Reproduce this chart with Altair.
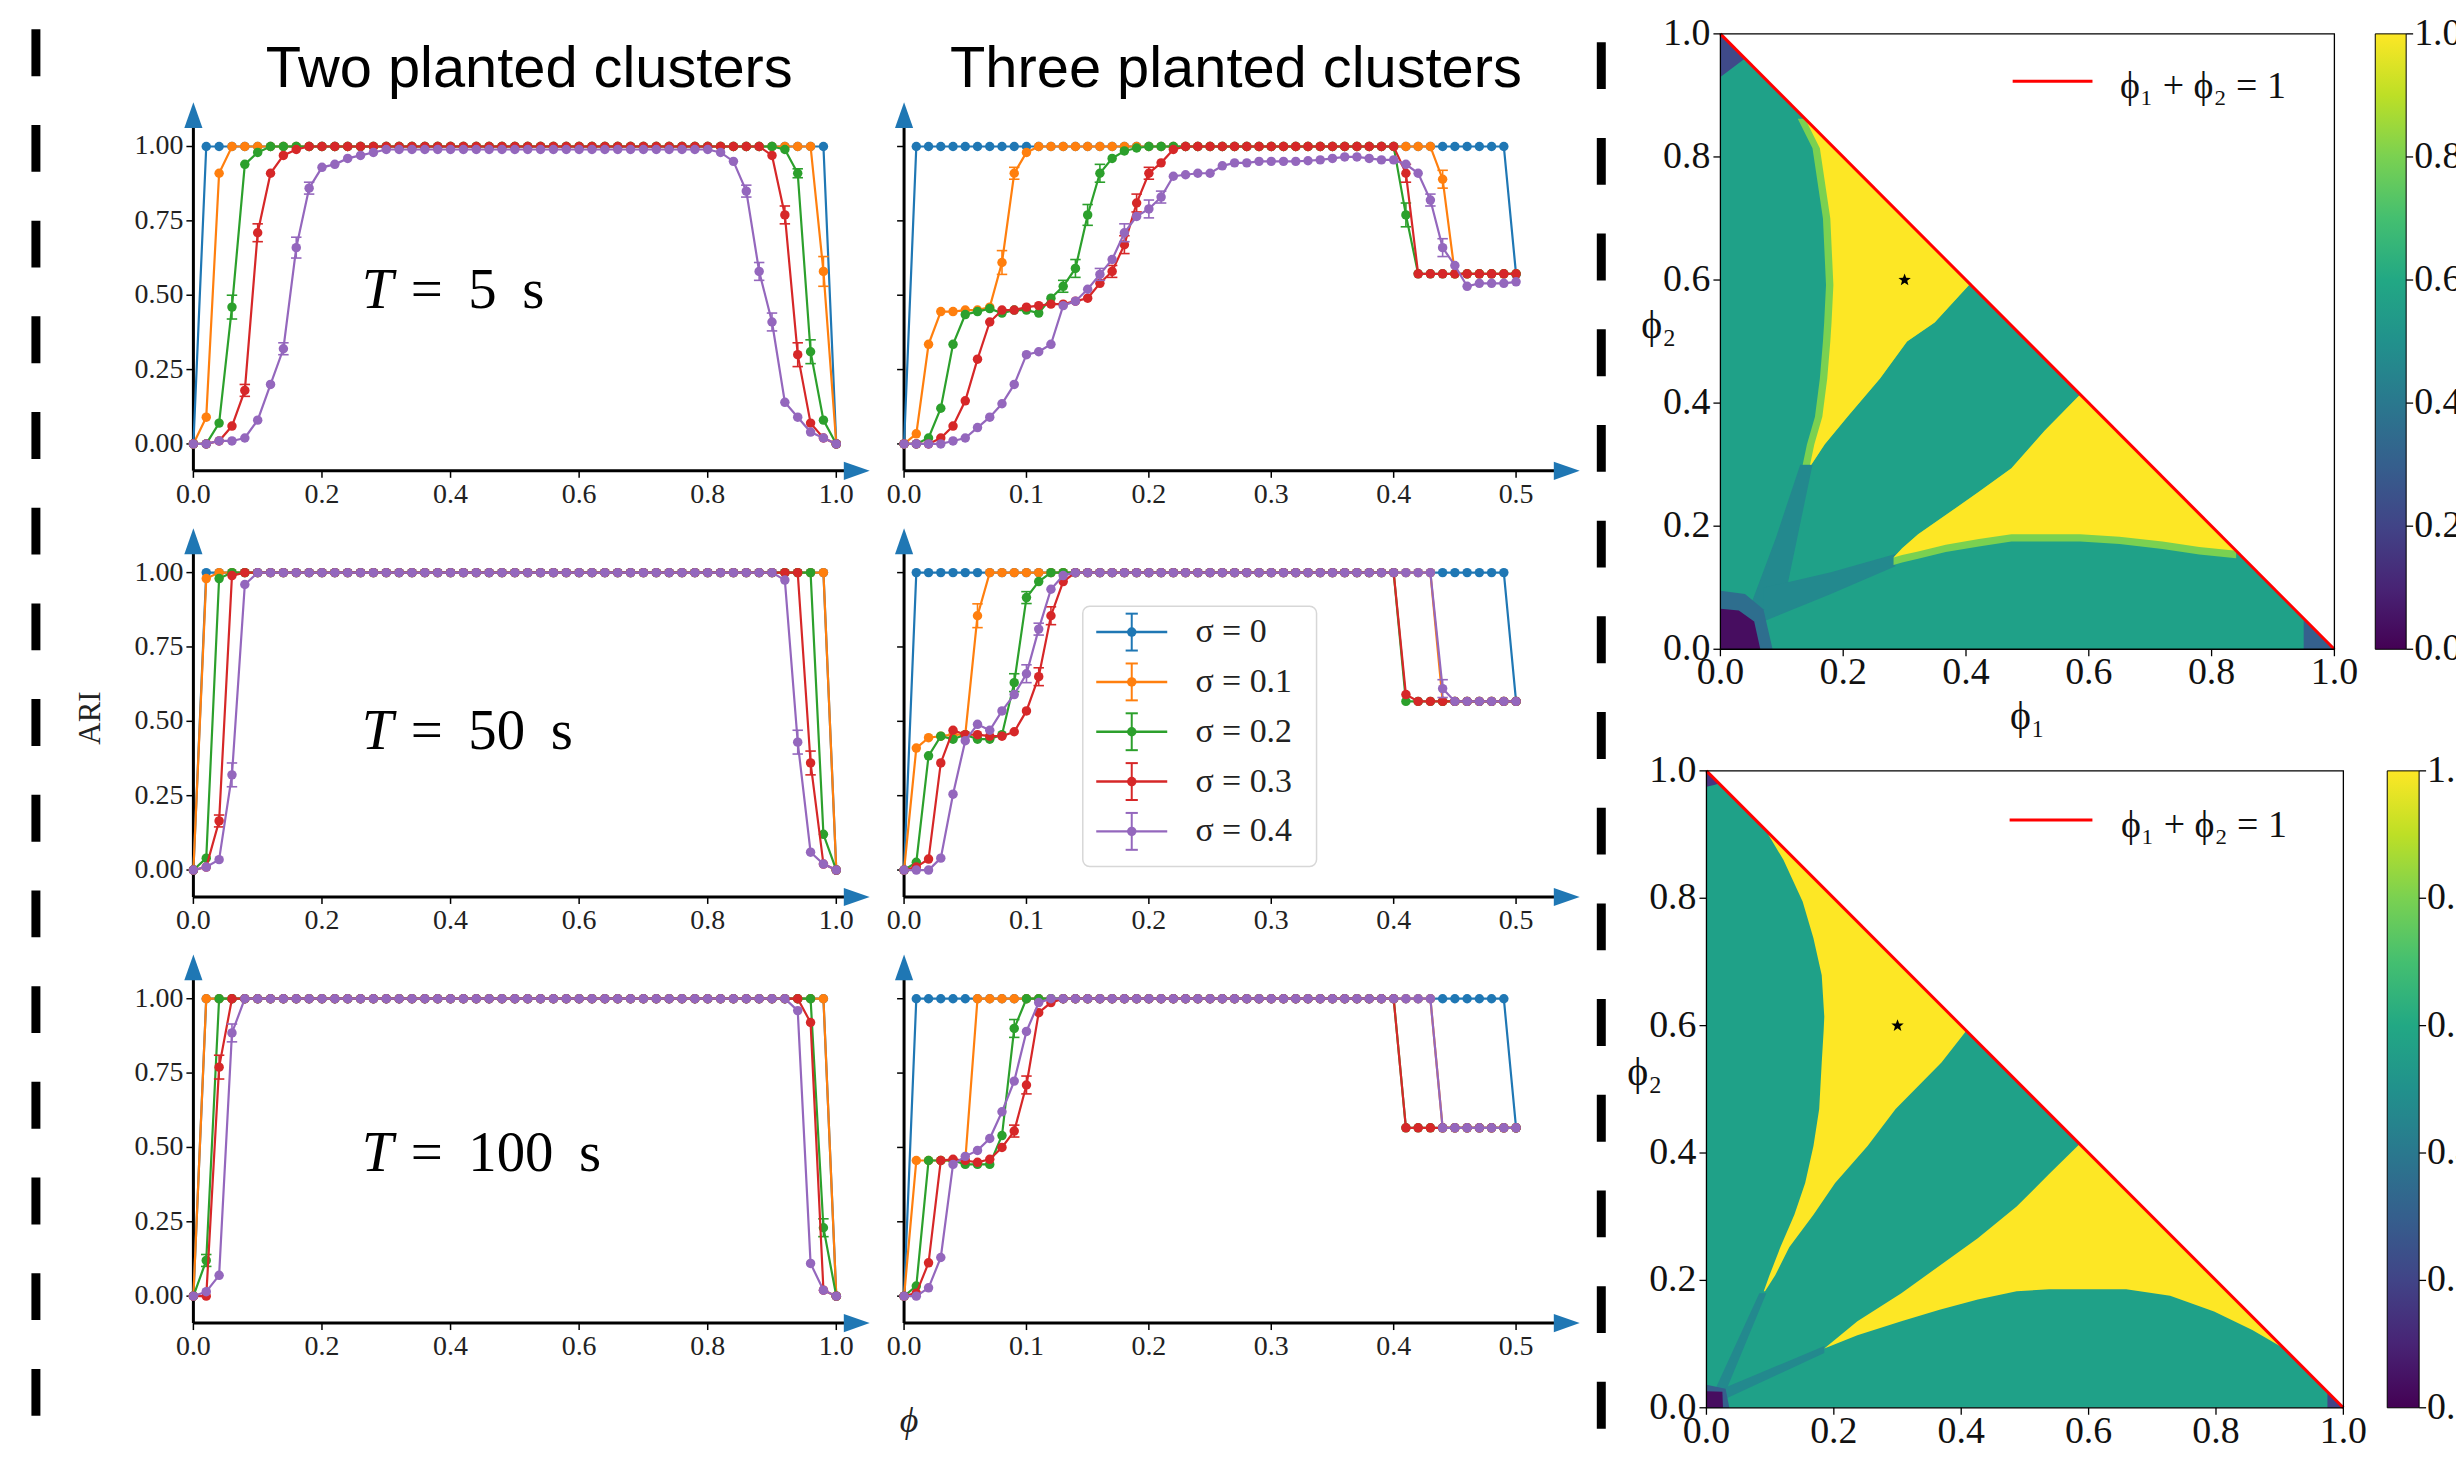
import math
import altair as alt
import pandas as pd

# ------------------------------------------------------------------ data
PHI_TWO = [round(0.02 * i, 2) for i in range(51)]
PHI_THREE = [round(0.01 * i, 2) for i in range(51)]
SIGMAS = ["σ = 0", "σ = 0.1", "σ = 0.2", "σ = 0.3", "σ = 0.4"]
SERIES_COLORS = ["#1f77b4", "#ff7f0e", "#2ca02c", "#d62728", "#9467bd"]
TITLES = ["Two planted clusters", "Three planted clusters"]
T_VALUES = ["5", "50", "100"]

# Two planted clusters
TWO_T5 = [
    [0.0] + [1.0] * 49 + [0.0],
    [0.0, 0.09, 0.91] + [1.0] * 46 + [0.58, 0.0],
    [0.0, 0.0, 0.07, 0.46, 0.94, 0.98] + [1.0] * 40 + [0.99, 0.91, 0.31, 0.08, 0.0],
    [0.0, 0.0, 0.01, 0.06, 0.18, 0.71, 0.91, 0.97, 0.99] + [1.0] * 36 + [0.97, 0.77, 0.30, 0.07, 0.02, 0.0],
    [0.0, 0.0, 0.01, 0.01, 0.02, 0.08, 0.20, 0.32, 0.66, 0.86, 0.93, 0.94, 0.96, 0.97, 0.98] + [0.99] * 26
    + [0.98, 0.95, 0.85, 0.58, 0.41, 0.14, 0.09, 0.04, 0.02, 0.0],
]
TWO_T50 = [
    [0.0] + [1.0] * 49 + [0.0],
    [0.0, 0.98] + [1.0] * 48 + [0.0],
    [0.0, 0.04, 0.98] + [1.0] * 46 + [0.12, 0.0],
    [0.0, 0.01, 0.165, 0.99] + [1.0] * 44 + [0.36, 0.02, 0.0],
    [0.0, 0.01, 0.035, 0.32, 0.96] + [1.0] * 41 + [0.975, 0.43, 0.06, 0.02, 0.0],
]
TWO_T100 = [
    [0.0] + [1.0] * 49 + [0.0],
    [0.0] + [1.0] * 49 + [0.0],
    [0.0, 0.12] + [1.0] * 47 + [0.23, 0.0],
    [0.0, 0.0, 0.77] + [1.0] * 45 + [0.92, 0.02, 0.0],
    [0.0, 0.015, 0.07, 0.885] + [1.0] * 43 + [0.96, 0.11, 0.02, 0.0],
]
# Three planted clusters
THREE_T5 = [
    [0.0] + [1.0] * 49 + [0.57],
    [0.0, 0.034, 0.335, 0.445, 0.445, 0.45, 0.45, 0.46, 0.61, 0.91, 0.98] + [1.0] * 33 + [0.89] + [0.572] * 6,
    [0.0, 0.0, 0.02, 0.12, 0.335, 0.435, 0.445, 0.455, 0.44, 0.45, 0.45, 0.44, 0.49, 0.53, 0.59, 0.77, 0.91,
     0.96, 0.985, 0.995] + [1.0] * 21 + [0.77] + [0.572] * 9,
    [0.0, 0.0, 0.0, 0.02, 0.06, 0.145, 0.285, 0.41, 0.45, 0.45, 0.46, 0.465, 0.47, 0.47, 0.48, 0.49, 0.54, 0.58,
     0.67, 0.81, 0.91, 0.945, 0.99] + [1.0] * 18 + [0.91] + [0.572] * 9,
    [0.0, 0.0, 0.0, 0.0, 0.01, 0.02, 0.055, 0.09, 0.135, 0.2, 0.3, 0.31, 0.335, 0.465, 0.48, 0.52, 0.57, 0.62,
     0.71, 0.765, 0.79, 0.83, 0.9, 0.905, 0.91, 0.91, 0.935, 0.945, 0.945, 0.95,
     0.95, 0.95, 0.95, 0.952, 0.955, 0.96, 0.965, 0.965, 0.96, 0.955, 0.955, 0.94, 0.91, 0.82, 0.66, 0.60,
     0.53, 0.54, 0.54, 0.54, 0.545],
]
THREE_T50 = [
    [0.0] + [1.0] * 49 + [0.567],
    [0.0, 0.41, 0.445, 0.45, 0.455, 0.455, 0.855] + [1.0] * 37 + [0.567] * 7,
    [0.0, 0.026, 0.384, 0.45, 0.44, 0.455, 0.44, 0.44, 0.455, 0.63, 0.916, 0.97] + [1.0] * 29 + [0.567] * 10,
    [0.0, 0.01, 0.037, 0.36, 0.47, 0.455, 0.455, 0.45, 0.45, 0.465, 0.535, 0.65, 0.855, 0.97] + [1.0] * 27
    + [0.59] + [0.567] * 9,
    [0.0, 0.0, 0.0, 0.04, 0.255, 0.435, 0.49, 0.47, 0.535, 0.59, 0.66, 0.81, 0.944, 0.99] + [1.0] * 30
    + [0.61] + [0.567] * 6,
]
THREE_T100 = [
    [0.0] + [1.0] * 49 + [0.566],
    [0.0, 0.456, 0.456, 0.456, 0.456, 0.456] + [1.0] * 38 + [0.566] * 7,
    [0.0, 0.034, 0.456, 0.456, 0.456, 0.443, 0.443, 0.443, 0.54, 0.90] + [1.0] * 31 + [0.566] * 10,
    [0.0, 0.01, 0.112, 0.456, 0.46, 0.456, 0.45, 0.46, 0.50, 0.555, 0.71, 0.953, 0.987] + [1.0] * 28 + [0.566] * 10,
    [0.0, 0.0, 0.028, 0.13, 0.443, 0.47, 0.49, 0.53, 0.62, 0.723, 0.89, 0.987] + [1.0] * 32 + [0.566] * 7,
]
PANELS = {(0, 0): TWO_T5, (1, 0): TWO_T50, (2, 0): TWO_T100,
          (0, 1): THREE_T5, (1, 1): THREE_T50, (2, 1): THREE_T100}

# visible error bars: (row, col, series) -> {phi: half-width}
ERRORS = {
    (0, 0, 1): {0.98: 0.05},
    (0, 0, 2): {0.06: 0.04, 0.94: 0.015, 0.96: 0.04},
    (0, 0, 3): {0.08: 0.02, 0.10: 0.03, 0.92: 0.03, 0.94: 0.04},
    (0, 0, 4): {0.14: 0.02, 0.16: 0.035, 0.18: 0.02, 0.86: 0.02, 0.88: 0.03, 0.90: 0.03},
    (0, 1, 1): {0.08: 0.04, 0.09: 0.02, 0.44: 0.03},
    (0, 1, 2): {0.13: 0.02, 0.14: 0.03, 0.15: 0.035, 0.16: 0.03, 0.41: 0.04},
    (0, 1, 3): {0.17: 0.02, 0.18: 0.03, 0.19: 0.03, 0.20: 0.02, 0.41: 0.03},
    (0, 1, 4): {0.16: 0.02, 0.18: 0.03, 0.20: 0.03, 0.21: 0.02, 0.43: 0.02, 0.44: 0.03},
    (1, 0, 3): {0.04: 0.02, 0.96: 0.04},
    (1, 0, 4): {0.06: 0.04, 0.94: 0.04},
    (1, 1, 1): {0.06: 0.04},
    (1, 1, 2): {0.09: 0.03, 0.10: 0.02},
    (1, 1, 3): {0.11: 0.03, 0.12: 0.03},
    (1, 1, 4): {0.10: 0.03, 0.11: 0.02, 0.44: 0.03},
    (2, 0, 2): {0.02: 0.02, 0.98: 0.03},
    (2, 0, 3): {0.04: 0.04},
    (2, 0, 4): {0.06: 0.03},
    (2, 1, 2): {0.09: 0.03},
    (2, 1, 3): {0.09: 0.02, 0.10: 0.03},
}

Y_TICKS = [0.0, 0.25, 0.5, 0.75, 1.0]
Y_TICK_LABELS = ["0.00", "0.25", "0.50", "0.75", "1.00"]
X_TICKS = [[0.0, 0.2, 0.4, 0.6, 0.8, 1.0], [0.0, 0.1, 0.2, 0.3, 0.4, 0.5]]
X_TICK_LABELS = [["0.0", "0.2", "0.4", "0.6", "0.8", "1.0"], ["0.0", "0.1", "0.2", "0.3", "0.4", "0.5"]]
HEAT_TICKS = [0.0, 0.2, 0.4, 0.6, 0.8, 1.0]
HEAT_TICK_LABELS = ["0.0", "0.2", "0.4", "0.6", "0.8", "1.0"]

# ARI maps over (phi1, phi2): region values and boundaries
V_TEAL, V_YELLOW, V_RIM, V_STREAK = 0.57, 1.0, 0.8, 0.47
TOP_A_Y = [0.30, 0.333, 0.378, 0.44, 0.50, 0.531, 0.592, 0.70, 0.814, 0.862]
TOP_A_LEFT = [0.146, 0.153, 0.166, 0.174, 0.179, 0.181, 0.184, 0.179, 0.162, 0.138]
TOP_A_RIGHT = [0.148, 0.170, 0.207, 0.260, 0.304, 0.349, 0.405, 0.300, 0.186, 0.138]
TOP_B_X = [0.282, 0.296, 0.322, 0.367, 0.421, 0.474, 0.528, 0.586, 0.65, 0.72, 0.78, 0.84]
TOP_B_LOW = [0.149, 0.153, 0.159, 0.170, 0.179, 0.187, 0.187, 0.187, 0.183, 0.175, 0.166, 0.160]
TOP_B_HIGH = [0.149, 0.164, 0.187, 0.218, 0.256, 0.294, 0.355, 0.414, 0.350, 0.280, 0.220, 0.160]
TOP_S1 = dict(y=[0.06, 0.18, 0.30], left=[0.045, 0.09, 0.13], right=[0.10, 0.125, 0.15])
TOP_S2 = dict(x=[0.07, 0.18, 0.285], low=[0.045, 0.09, 0.135], high=[0.10, 0.125, 0.155])
TOP_HALO = dict(x=[0.0, 0.04, 0.07, 0.085], high=[0.095, 0.09, 0.065, 0.0], v=0.36)
TOP_CORE = dict(x=[0.0, 0.03, 0.055, 0.065], high=[0.066, 0.063, 0.045, 0.0], v=0.03)
TOP_TL = dict(x=[0.0, 0.02, 0.04], low=[0.93, 0.945, 0.96], high=[1.0, 0.98, 0.96], v=0.22)
TOP_BR = dict(x=[0.95, 0.975, 1.0], low=[0.0, 0.0, 0.0], high=[0.05, 0.025, 0.0], v=0.3)

BOT_A_Y = [0.183, 0.208, 0.252, 0.303, 0.353, 0.411, 0.469, 0.542, 0.592, 0.614, 0.679, 0.737, 0.795, 0.86, 0.90]
BOT_A_LEFT = [0.090, 0.099, 0.116, 0.138, 0.155, 0.168, 0.177, 0.181, 0.184, 0.185, 0.181, 0.168, 0.151, 0.121, 0.097]
BOT_A_RIGHT = [0.092, 0.108, 0.130, 0.168, 0.202, 0.253, 0.297, 0.369, 0.408, 0.386, 0.321, 0.263, 0.205, 0.140, 0.100]
BOT_B_X = [0.185, 0.237, 0.306, 0.366, 0.426, 0.487, 0.538, 0.586, 0.659, 0.728, 0.797, 0.857, 0.909]
BOT_B_LOW = [0.093, 0.114, 0.136, 0.154, 0.170, 0.183, 0.186, 0.186, 0.186, 0.176, 0.151, 0.122, 0.092]
BOT_B_HIGH = [0.093, 0.136, 0.180, 0.223, 0.266, 0.316, 0.367, 0.414, 0.341, 0.272, 0.203, 0.143, 0.091]
BOT_S1 = dict(y=[0.025, 0.18], left=[0.012, 0.083], right=[0.030, 0.094])
BOT_S2 = dict(x=[0.025, 0.185], low=[0.012, 0.086], high=[0.030, 0.097])
BOT_HALO = dict(x=[0.0, 0.03, 0.036], high=[0.036, 0.03, 0.0], v=0.3)
BOT_CORE = dict(x=[0.0, 0.025, 0.026], high=[0.026, 0.025, 0.0], v=0.03)
BOT_TL = dict(x=[0.0, 0.012, 0.02], low=[0.975, 0.978, 0.98], high=[1.0, 0.988, 0.98], v=0.15)
BOT_BR = dict(x=[0.975, 0.99, 1.0], low=[0.0, 0.0, 0.0], high=[0.025, 0.01, 0.0], v=0.2)

VIRIDIS = ["#440154", "#482475", "#414487", "#355f8d", "#2a788e", "#21918c",
           "#22a884", "#44bf70", "#7ad151", "#bddf26", "#fde725"]
LEGEND_TEXT = "\u03d5\u2081 + \u03d5\u2082 = 1"

# ------------------------------------------------------------------ layout
W, H = 2456, 1442
SERIF = "Liberation Serif"
SANS = "Liberation Sans"


def P(v):
    return v - 8


XL, XR, XMAX, XEND = [194, 907], [839, 1521], [1.0, 0.5], [1.052, 0.552]
Y0, Y1 = [443.0, 870.5, 1298.0], [144.6, 572.1, 999.6]
YBOT_PX, YTIP = 27, 1.149
UP = "M-0.7,1L0.7,1L0,-1Z"
RIGHT = "M-1,-0.7L-1,0.7L1,0Z"
_pts = []
for k in range(10):
    a = -math.pi / 2 + k * math.pi / 5
    rr = 1.0 if k % 2 == 0 else 0.42
    _pts.append(f"{rr * math.cos(a):.3f},{rr * math.sin(a):.3f}")
STAR = "M" + "L".join(_pts) + "Z"
CSCALE = alt.Scale(domain=SIGMAS, range=SERIES_COLORS)

layers = []


def one(**kw):
    return pd.DataFrame({k: [v] for k, v in kw.items()})


def panel(r, c):
    xs = alt.Scale(domain=[0, XMAX[c]], range=[P(XL[c]), P(XR[c])], nice=False, zero=False)
    ys = alt.Scale(domain=[0, 1], range=[P(Y0[r]), P(Y1[r])], nice=False, zero=False)
    dx = XMAX[c] / (XR[c] - XL[c])
    dy = 1.0 / (Y0[r] - Y1[r])
    ybot = -YBOT_PX * dy
    xend = XEND[c]

    def X(f):
        return alt.X(f, type="quantitative", scale=xs, axis=None)

    def Y(f):
        return alt.Y(f, type="quantitative", scale=ys, axis=None)

    out = []
    # axes
    ax = pd.DataFrame({"x": [0.0, 0.0], "x2": [xend - 14 * dx, 0.0],
                       "y": [ybot, ybot], "y2": [ybot, YTIP - 14 * dy]})
    out.append(alt.Chart(ax).mark_rule(color="black", strokeWidth=3).encode(
        x=X("x"), x2="x2", y=Y("y"), y2="y2"))
    out.append(alt.Chart(one(x=0.0, y=YTIP - 13 * dy)).mark_point(
        shape=UP, size=676, filled=True, color="#1f77b4", opacity=1).encode(x=X("x"), y=Y("y")))
    out.append(alt.Chart(one(x=xend - 13 * dx, y=ybot)).mark_point(
        shape=RIGHT, size=676, filled=True, color="#1f77b4", opacity=1).encode(x=X("x"), y=Y("y")))
    # ticks
    xt = pd.DataFrame({"x": X_TICKS[c], "t": X_TICK_LABELS[c]})
    xt["y"] = ybot
    xt["y2"] = ybot - 7 * dy
    out.append(alt.Chart(xt).mark_rule(color="black", strokeWidth=1.5).encode(x=X("x"), y=Y("y"), y2="y2"))
    out.append(alt.Chart(xt).mark_text(font=SERIF, fontSize=28, align="center", baseline="middle",
                                       dy=24, color="#222").encode(x=X("x"), y=Y("y"), text="t:N"))
    yt = pd.DataFrame({"y": Y_TICKS, "t": Y_TICK_LABELS})
    yt["x"] = 0.0
    yt["x2"] = -7 * dx
    out.append(alt.Chart(yt).mark_rule(color="black", strokeWidth=1.5).encode(x=X("x"), x2="x2", y=Y("y")))
    if c == 0:
        out.append(alt.Chart(yt).mark_text(font=SERIF, fontSize=28, align="right", baseline="middle",
                                           dx=-10, color="#222").encode(x=X("x"), y=Y("y"), text="t:N"))
    # series
    xv = PHI_TWO if c == 0 else PHI_THREE
    for si, vals in enumerate(PANELS[(r, c)]):
        n = min(len(xv), len(vals))
        df = pd.DataFrame({"x": xv[:n], "y": vals[:n]})
        df["s"] = SIGMAS[si]
        col = alt.Color("s:N", scale=CSCALE, legend=None)
        out.append(alt.Chart(df).mark_line(strokeWidth=2.2).encode(x=X("x"), y=Y("y"), color=col))
        errs = ERRORS.get((r, c, si), {})
        if errs:
            look = dict(zip(xv[:n], vals[:n]))
            ex = list(errs.keys())
            edf = pd.DataFrame({"x": ex, "lo": [look[e] - errs[e] for e in ex],
                                "hi": [look[e] + errs[e] for e in ex]})
            edf["s"] = SIGMAS[si]
            out.append(alt.Chart(edf).mark_rule(strokeWidth=1.6).encode(
                x=X("x"), y=Y("lo"), y2="hi", color=col))
            cap = pd.concat([edf.assign(y=edf["lo"]), edf.assign(y=edf["hi"])])
            out.append(alt.Chart(cap).mark_point(shape="stroke", size=110, strokeWidth=1.6, opacity=1).encode(
                x=X("x"), y=Y("y"), color=col))
        out.append(alt.Chart(df).mark_circle(size=90, opacity=1).encode(x=X("x"), y=Y("y"), color=col))
    # T annotation
    if c == 0:
        ty = [0.456, 0.407, 0.42][r]
        out.append(alt.Chart(one(x=0.262, y=ty, t="T")).mark_text(
            font=SERIF, fontSize=57, fontStyle="italic", align="left", baseline="alphabetic", color="black"
        ).encode(x=X("x"), y=Y("y"), text="t:N"))
        out.append(alt.Chart(one(x=0.338, y=ty, t="= \u2009" + T_VALUES[r] + " \u2009s")).mark_text(
            font=SERIF, fontSize=57, align="left", baseline="alphabetic", color="black"
        ).encode(x=X("x"), y=Y("y"), text="t:N"))
    # legend of the sigma series
    if (r, c) == (1, 1):
        out.append(alt.Chart(one(x=0.146, x2=0.337, y=0.012, y2=0.887)).mark_rect(
            fill="white", stroke="#d3d3d3", strokeWidth=1.5, cornerRadius=7, opacity=0.9).encode(
            x=X("x"), x2="x2", y=Y("y"), y2="y2"))
        ldf = pd.DataFrame({"s": SIGMAS})
        ldf["y"] = [0.80 - i * 0.1675 for i in range(len(SIGMAS))]
        ldf["x"], ldf["x2"], ldf["xm"], ldf["xt"] = 0.157, 0.215, 0.186, 0.238
        ldf["lo"], ldf["hi"] = ldf["y"] - 0.062, ldf["y"] + 0.062
        col = alt.Color("s:N", scale=CSCALE, legend=None)
        out.append(alt.Chart(ldf).mark_rule(strokeWidth=2.5).encode(x=X("x"), x2="x2", y=Y("y"), color=col))
        out.append(alt.Chart(ldf).mark_rule(strokeWidth=2).encode(x=X("xm"), y=Y("lo"), y2="hi", color=col))
        lcap = pd.concat([ldf.assign(yc=ldf["lo"]), ldf.assign(yc=ldf["hi"])])
        out.append(alt.Chart(lcap).mark_point(shape="stroke", size=150, strokeWidth=2, opacity=1).encode(
            x=X("xm"), y=Y("yc"), color=col))
        out.append(alt.Chart(ldf).mark_circle(size=90, opacity=1).encode(x=X("xm"), y=Y("y"), color=col))
        out.append(alt.Chart(ldf).mark_text(font=SERIF, fontSize=34, align="left", baseline="middle",
                                            color="#222").encode(x=X("xt"), y=Y("y"), text="s:N"))
    return out


for r in range(3):
    for c in range(2):
        layers += panel(r, c)

HEAT = [
    dict(x0=1726, x1=2342, y0=649.0, y1=31.6, cb=(2383, 2414),
         A=(TOP_A_Y, TOP_A_LEFT, TOP_A_RIGHT), B=(TOP_B_X, TOP_B_LOW, TOP_B_HIGH), S1=TOP_S1, S2=TOP_S2,
         rim=True, halo=TOP_HALO, core=TOP_CORE, tl=TOP_TL, br=TOP_BR),
    dict(x0=1712, x1=2351, y0=1410.0, y1=771.0, cb=(2395, 2427),
         A=(BOT_A_Y, BOT_A_LEFT, BOT_A_RIGHT), B=(BOT_B_X, BOT_B_LOW, BOT_B_HIGH), S1=BOT_S1, S2=BOT_S2,
         rim=False, halo=BOT_HALO, core=BOT_CORE, tl=BOT_TL, br=BOT_BR),
]


def heat(h):
    d = HEAT[h]
    xs = alt.Scale(domain=[0, 1], range=[P(d["x0"]), P(d["x1"])], nice=False, zero=False)
    ys = alt.Scale(domain=[0, 1], range=[P(d["y0"]), P(d["y1"])], nice=False, zero=False)
    cs = alt.Scale(scheme="viridis", domain=[0, 1])
    px = 1.0 / (d["x1"] - d["x0"])
    py = 1.0 / (d["y0"] - d["y1"])

    def X(f):
        return alt.X(f, type="quantitative", scale=xs, axis=None)

    def Y(f):
        return alt.Y(f, type="quantitative", scale=ys, axis=None)

    def C():
        return alt.Color("v:Q", scale=cs, legend=None)

    def varea(xv, lo, hi, v):
        df = pd.DataFrame({"x": xv, "lo": lo, "hi": hi})
        df["v"] = v
        return alt.Chart(df).mark_area(orient="vertical", opacity=1).encode(
            x=X("x"), y=Y("lo"), y2="hi", color=C())

    def harea(yv, left, right, v):
        df = pd.DataFrame({"y": yv, "l": left, "r": right})
        df["v"] = v
        return alt.Chart(df).mark_area(orient="horizontal", opacity=1).encode(
            y=Y("y"), x=X("l"), x2="r", color=C())

    out = [varea([0.0, 1.0], [0.0, 0.0], [1.0, 0.0], V_TEAL)]
    out.append(harea(d["S1"]["y"], d["S1"]["left"], d["S1"]["right"], V_STREAK))
    out.append(varea(d["S2"]["x"], d["S2"]["low"], d["S2"]["high"], V_STREAK))
    for key in ("halo", "core"):
        reg = d[key]
        out.append(varea(reg["x"], [0.0] * len(reg["x"]), reg["high"], reg["v"]))
    for key in ("tl", "br"):
        reg = d[key]
        out.append(varea(reg["x"], reg["low"], reg["high"], reg["v"]))
    ay, al, ar = d["A"]
    bx, bl, bh = d["B"]
    if d["rim"]:
        out.append(harea(ay, [v - 0.012 for v in al], ar, V_RIM))
        out.append(varea(bx, [v - 0.012 for v in bl], bh, V_RIM))
    out.append(harea(ay, al, ar, V_YELLOW))
    out.append(varea(bx, bl, bh, V_YELLOW))
    # diagonal, frame, star
    out.append(alt.Chart(pd.DataFrame({"x": [0.0, 1.0], "y": [1.0, 0.0]})).mark_line(
        color="#ff0000", strokeWidth=3).encode(x=X("x"), y=Y("y")))
    out.append(alt.Chart(one(x=0.0, x2=1.0, y=0.0, y2=1.0)).mark_rect(
        fillOpacity=0, stroke="black", strokeWidth=1.3).encode(x=X("x"), x2="x2", y=Y("y"), y2="y2"))
    out.append(alt.Chart(one(x=0.3, y=0.6)).mark_point(
        shape=STAR, size=170, filled=True, color="black", opacity=1).encode(x=X("x"), y=Y("y")))
    # in-plot legend
    out.append(alt.Chart(one(x=0.476, x2=0.606, y=0.923)).mark_rule(color="#ff0000", strokeWidth=3).encode(
        x=X("x"), x2="x2", y=Y("y")))
    out.append(alt.Chart(one(x=0.651, y=0.913, t=LEGEND_TEXT)).mark_text(
        font=SERIF, fontSize=38, align="left", baseline="middle", color="#111").encode(
        x=X("x"), y=Y("y"), text="t:N"))
    # ticks and labels
    tk = pd.DataFrame({"v": HEAT_TICKS, "t": HEAT_TICK_LABELS})
    tk["z"] = 0.0
    tk["zx"] = -7 * px
    tk["zy"] = -7 * py
    out.append(alt.Chart(tk).mark_rule(color="black", strokeWidth=1.3).encode(x=X("z"), x2="zx", y=Y("v")))
    out.append(alt.Chart(tk).mark_rule(color="black", strokeWidth=1.3).encode(x=X("v"), y=Y("z"), y2="zy"))
    out.append(alt.Chart(tk).mark_text(font=SERIF, fontSize=38, align="right", baseline="middle", dx=-10,
                                       color="#111").encode(x=X("z"), y=Y("v"), text="t:N"))
    out.append(alt.Chart(tk).mark_text(font=SERIF, fontSize=38, align="center", baseline="middle", dy=24,
                                       color="#111").encode(x=X("v"), y=Y("z"), text="t:N"))
    out.append(alt.Chart(one(x=0.0, y=0.525, t="\u03d5\u2082")).mark_text(
        font=SERIF, fontSize=40, align="center", baseline="middle", dx=-62, color="#111").encode(
        x=X("x"), y=Y("y"), text="t:N"))
    out.append(alt.Chart(one(x=0.5, y=0.0, t="\u03d5\u2081")).mark_text(
        font=SERIF, fontSize=40, align="center", baseline="middle", dy=68, color="#111").encode(
        x=X("x"), y=Y("y"), text="t:N"))
    # colour bar
    grad = alt.LinearGradient(gradient="linear", x1=0, x2=0, y1=1, y2=0,
                              stops=[alt.GradientStop(color=c, offset=i / (len(VIRIDIS) - 1))
                                     for i, c in enumerate(VIRIDIS)])
    cb0, cb1 = d["cb"]
    out.append(alt.Chart(one(y=0.0, y2=1.0)).mark_rect(color=grad, stroke="black", strokeWidth=1).encode(
        x=alt.value(P(cb0)), x2=alt.value(P(cb1)), y=Y("y"), y2="y2"))
    out.append(alt.Chart(tk).mark_rule(color="black", strokeWidth=1.3).encode(
        x=alt.value(P(cb1)), x2=alt.value(P(cb1 + 7)), y=Y("v")))
    out.append(alt.Chart(tk).mark_text(font=SERIF, fontSize=38, align="left", baseline="middle",
                                       color="#111").encode(x=alt.value(P(cb1 + 8)), y=Y("v"), text="t:N"))
    return out


layers += heat(0)
layers += heat(1)

# page decorations: titles, axis names, dashed separators
for i, (xc, yb) in enumerate([(531, 85), (1240, 85)]):
    layers.append(alt.Chart(one(t=TITLES[i])).mark_text(
        font=SANS, fontSize=58, align="center", baseline="alphabetic", color="black").encode(
        x=alt.value(P(xc)), y=alt.value(P(yb)), text="t:N"))
layers.append(alt.Chart(one(t="ARI")).mark_text(
    font=SERIF, fontSize=31, angle=270, align="center", baseline="middle", color="#222").encode(
    x=alt.value(P(91)), y=alt.value(P(718)), text="t:N"))
layers.append(alt.Chart(one(t="\u03d5")).mark_text(
    font=SERIF, fontSize=36, fontStyle="italic", align="center", baseline="middle", color="#222").encode(
    x=alt.value(P(912)), y=alt.value(P(1423)), text="t:N"))
for xc, ys in [(36, 27), (1606.5, 40)]:
    layers.append(alt.Chart(one(k=0)).mark_rule(color="black", strokeWidth=9, strokeDash=[47, 49]).encode(
        x=alt.value(P(xc)), y=alt.value(P(ys)), y2=alt.value(H + 20)))

chart = alt.layer(*layers).resolve_scale(
    x="independent", y="independent", color="independent"
).properties(
    width=W, height=H, padding=0, autosize=alt.AutoSizeParams(type="none")
).configure_view(stroke=None)

chart.save("out.html", embed_options={"renderer": "svg", "actions": False})
